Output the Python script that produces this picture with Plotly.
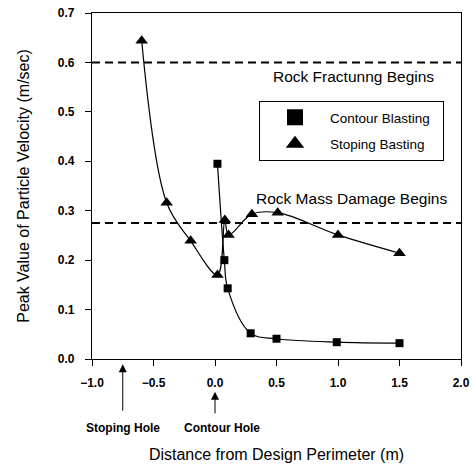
import plotly.graph_objects as go

# Data
contour_x = [0.02, 0.076, 0.103, 0.29, 0.5, 0.99, 1.5]
contour_y = [0.395, 0.200, 0.143, 0.052, 0.041, 0.034, 0.032]
stoping_x = [-0.596, -0.393, -0.198, 0.02, 0.08, 0.11, 0.30, 0.51, 1.0, 1.5]
stoping_y = [0.644, 0.316, 0.239, 0.170, 0.281, 0.251, 0.293, 0.296, 0.251, 0.214]
thresholds = [0.6, 0.275]
threshold_labels = ["Rock Fractunng Begins", "Rock Mass Damage Begins"]
hole_x = [-0.75, 0.0]
hole_labels = ["Stoping Hole", "Contour Hole"]

FONT = "Liberation Sans, Arial, sans-serif"
NB = "\u00a0"

fig = go.Figure()
fig.add_trace(go.Scatter(x=contour_x, y=contour_y, mode="lines+markers",
                         line=dict(color="black", width=1.2, shape="spline", smoothing=1),
                         marker=dict(symbol="square", size=8, color="black"),
                         showlegend=False))
fig.add_trace(go.Scatter(x=stoping_x, y=stoping_y, mode="lines+markers",
                         line=dict(color="black", width=1.2, shape="spline", smoothing=1),
                         marker=dict(symbol="triangle-up", size=11, color="black"),
                         showlegend=False))
# legend entries
fig.add_trace(go.Scatter(x=[None], y=[None], mode="markers", name="Contour Blasting" + NB * 2,
                         marker=dict(symbol="square", size=16, color="black"), legendgroup="a"))
fig.add_trace(go.Scatter(x=[None], y=[None], mode="markers", name="Stoping Basting" + NB * 2,
                         marker=dict(symbol="triangle-up", size=16, color="black"), legendgroup="b"))

for t in thresholds:
    fig.add_shape(type="line", xref="paper", x0=0, x1=1, yref="y", y0=t, y1=t,
                  line=dict(color="black", width=2, dash="8px,5px"))

fig.add_annotation(x=1.13, y=0.571, xref="x", yref="y", text=threshold_labels[0],
                   showarrow=False, font=dict(size=15.5, color="black", family=FONT))
fig.add_annotation(x=1.11, y=0.324, xref="x", yref="y", text=threshold_labels[1],
                   showarrow=False, font=dict(size=15.5, color="black", family=FONT))

# hole arrows
arrow_top = [-0.015, -0.095]
arrow_len = [48, 23]
label_x = [-0.75, 0.06]
for hx, top, ln, lx, lab in zip(hole_x, arrow_top, arrow_len, label_x, hole_labels):
    fig.add_annotation(x=hx, y=top, xref="x", yref="paper", text="", showarrow=True,
                       ax=0, ay=ln, axref="pixel", ayref="pixel",
                       arrowhead=2, arrowsize=1.6, arrowwidth=1, arrowcolor="black")
    fig.add_annotation(x=lx, y=-0.2, xref="x", yref="paper", yanchor="middle",
                       text=lab, showarrow=False,
                       font=dict(size=12, color="black", family=FONT, weight="bold"))

fig.update_layout(
    width=472, height=464,
    margin=dict(l=92, r=11, t=13, b=105),
    paper_bgcolor="white", plot_bgcolor="white",
    font=dict(family=FONT, color="black"),
    legend=dict(x=0.4526, y=0.7457, xanchor="left", yanchor="top",
                bordercolor="black", borderwidth=1, bgcolor="white",
                itemwidth=60, tracegroupgap=6,
                font=dict(size=13.5, family=FONT, color="black")),
    xaxis=dict(range=[-1.0, 2.0], tickvals=[-1.0, -0.5, 0.0, 0.5, 1.0, 1.5, 2.0],
               tickformat=".1f", showgrid=False, zeroline=False, automargin=False,
               showline=True, linecolor="black", linewidth=1.2, mirror=True,
               ticks="outside", ticklen=6, tickcolor="black", ticklabelstandoff=6,
               tickfont=dict(size=12, family=FONT, weight="bold"),
               title=dict(text="Distance from Design Perimeter (m)", standoff=60,
                          font=dict(size=16, family=FONT))),
    yaxis=dict(range=[0, 0.7], tickvals=[0, 0.1, 0.2, 0.3, 0.4, 0.5, 0.6, 0.7],
               tickformat=".1f", showgrid=False, zeroline=False, automargin=False,
               showline=True, linecolor="black", linewidth=1.2, mirror=True,
               ticks="outside", ticklen=6, tickcolor="black", ticklabelstandoff=8,
               tickfont=dict(size=12, family=FONT, weight="bold"),
               title=dict(text="Peak Value of Particle Velocity (m/sec)", standoff=24,
                          font=dict(size=16, family=FONT))),
)

fig.write_html("out.html")
